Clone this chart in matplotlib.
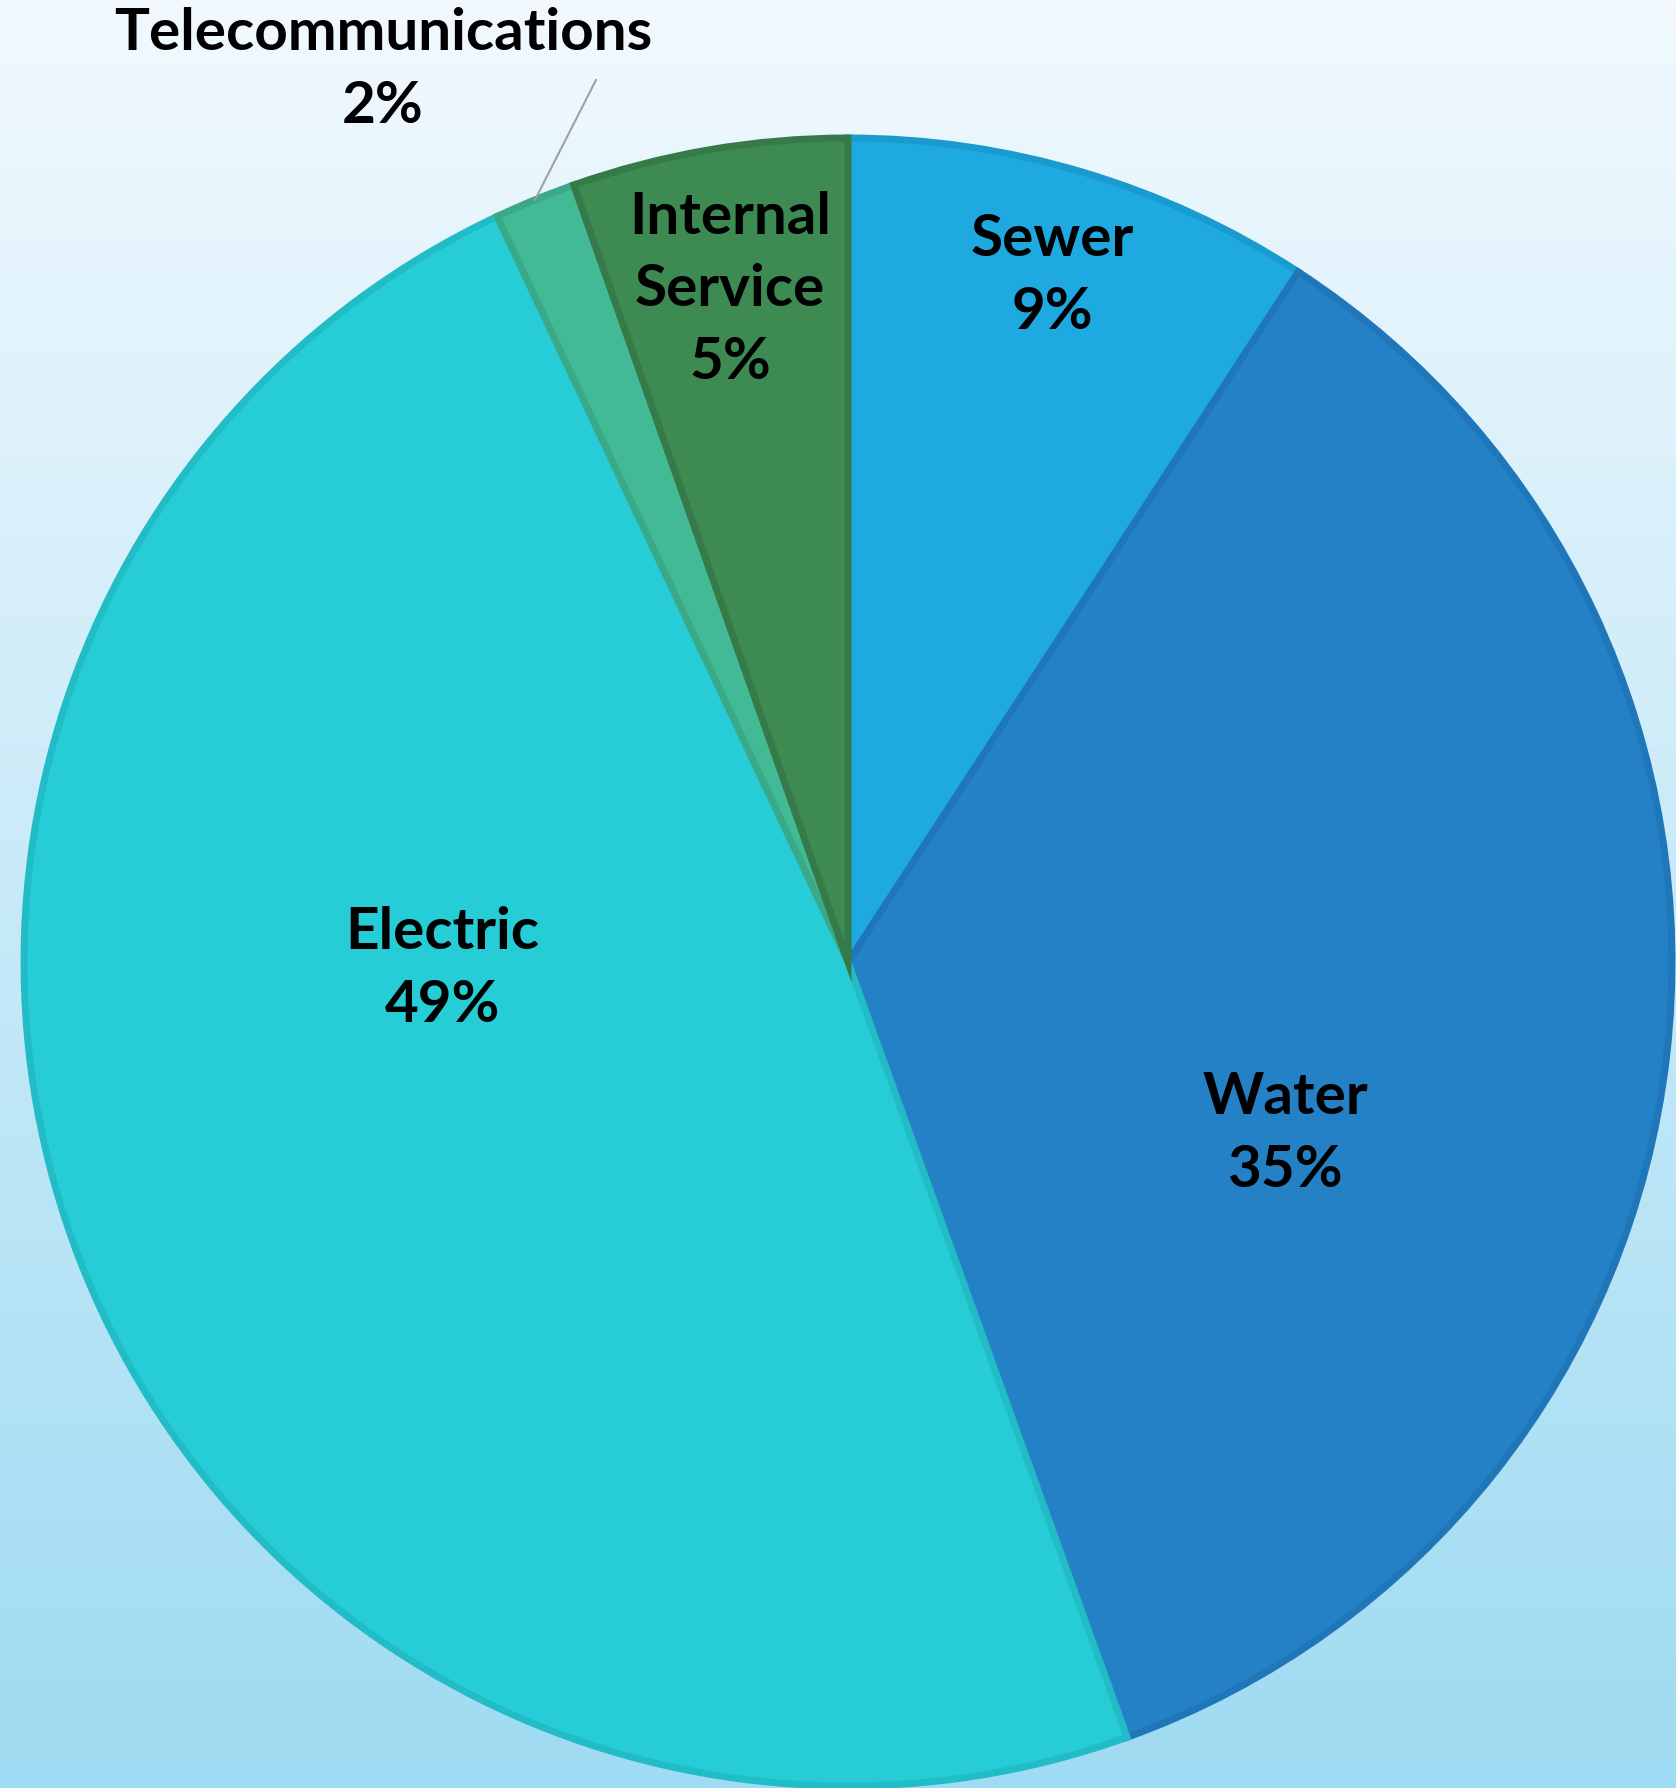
import numpy as np
import matplotlib.pyplot as plt
from matplotlib.colors import LinearSegmentedColormap

# slice data, clockwise from 12 o'clock
categories = ["Sewer", "Water", "Electric", "Telecommunications", "Internal\nService"]
shares = [9.2, 35.3, 48.5, 1.6, 5.4]
pct_labels = ["9%", "35%", "49%", "2%", "5%"]
colors = ["#1eaae0", "#2481c6", "#26cdd6", "#43ba96", "#3d8a53"]
edges = ["#1a9bd0", "#1f76b8", "#22bcc6", "#3aa987", "#357a48"]

W, H = 1676, 1788
fig = plt.figure(figsize=(W / 100, H / 100), dpi=100)

# background gradient
bg = fig.add_axes([0, 0, 1, 1])
bg.axis("off")
cmap = LinearSegmentedColormap.from_list("bg", ["#f1f9fe", "#9fdbf2"])
grad = np.linspace(0, 1, 256).reshape(-1, 1)
bg.imshow(grad, aspect="auto", cmap=cmap, extent=[0, 1, 0, 1], origin="upper")

ax = fig.add_axes([0, 0, 1, 1])
ax.patch.set_alpha(0)

cx, cy, r = 848, H - 962, 824
wedges, _ = ax.pie(shares, colors=colors, startangle=90, counterclock=False,
                   center=(cx, cy), radius=r, frame=True,
                   wedgeprops=dict(linewidth=5, joinstyle="miter"))
for w, ec in zip(wedges, edges):
    w.set_edgecolor(ec)
ax.set_xlim(0, W)
ax.set_ylim(0, H)
ax.set_aspect("equal")
ax.axis("off")

font = dict(fontsize=42, fontweight="bold", family=["Lato", "DejaVu Sans"],
            ha="center", va="center", color="black", linespacing=1.45)

# label centres in pixels (from top-left)
label_pos = [(1052, 276), (1285, 1134), (442, 969), (383, 70), (730, 290)]
for name, pct, (lx, ly) in zip(categories, pct_labels, label_pos):
    ax.text(lx, H - ly, name + "\n" + pct, **font)

# leader line for the small telecommunications slice
tw = wedges[3]
mid = np.deg2rad((tw.theta1 + tw.theta2) / 2)
px, py = cx + r * np.cos(mid), cy + r * np.sin(mid)
ax.plot([px, 596], [py, H - 80], color="#a0a0a0", lw=1.5)

fig.savefig("out.png", dpi=100)
